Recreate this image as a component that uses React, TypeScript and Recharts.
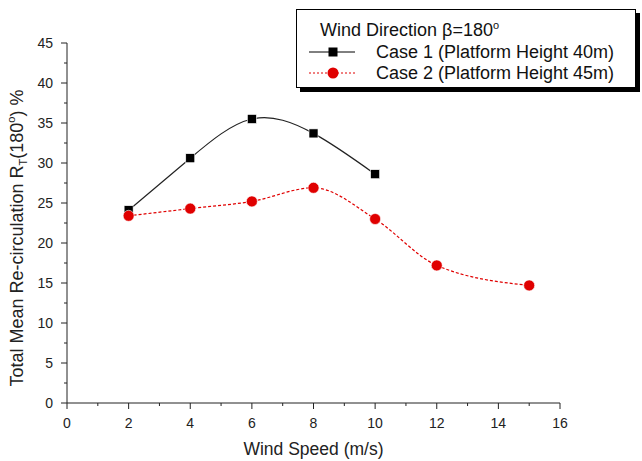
import React from "react";
import { LineChart, Line, XAxis, YAxis, Label } from "recharts";

const windSpeeds1 = [2, 4, 6, 8, 10];
const case1Values = [24.1, 30.6, 35.5, 33.7, 28.6];
const windSpeeds2 = [2, 4, 6, 8, 10, 12, 15];
const case2Values = [23.4, 24.3, 25.2, 26.9, 23.0, 17.2, 14.7];

const xTicks = [0, 1, 2, 3, 4, 5, 6, 7, 8, 9, 10, 11, 12, 13, 14, 15, 16];
const yTicks = [0, 2.5, 5, 7.5, 10, 12.5, 15, 17.5, 20, 22.5, 25, 27.5, 30, 32.5, 35, 37.5, 40, 42.5, 45];

const FONT = "'Liberation Sans', Arial, sans-serif";
const RED = "#e00000";

const case1 = windSpeeds1.map((x, i) => ({ x, y: case1Values[i] }));
const case2 = windSpeeds2.map((x, i) => ({ x, y: case2Values[i] }));

function XTick(props: any) {
  const { x, y, payload } = props;
  const major = payload.value % 2 === 0;
  return (
    <g>
      <line x1={x} x2={x} y1={y - 8} y2={y - 8 + (major ? 6 : 3)} stroke="#222" strokeWidth={1} />
      {major && (
        <text x={x} y={y + 17} textAnchor="middle" fontSize={14} fill="#222" fontFamily={FONT}>
          {payload.value}
        </text>
      )}
    </g>
  );
}

function YTick(props: any) {
  const { x, y, payload } = props;
  const major = payload.value % 5 === 0;
  return (
    <g>
      <line x1={x + 8} x2={x + 8 - (major ? 6 : 3)} y1={y} y2={y} stroke="#222" strokeWidth={1} />
      {major && (
        <text x={x - 6} y={y + 5} textAnchor="end" fontSize={14} fill="#222" fontFamily={FONT}>
          {payload.value}
        </text>
      )}
    </g>
  );
}

function SquareDot(props: any) {
  const { cx, cy, index } = props;
  return <rect key={index} x={cx - 4.5} y={cy - 4.5} width={9} height={9} fill="#000" stroke="#fff" strokeWidth={0.6} />;
}

function CircleDot(props: any) {
  const { cx, cy, index } = props;
  return <circle key={index} cx={cx} cy={cy} r={5.5} fill={RED} stroke="#fff" strokeWidth={0.6} />;
}

function YTitle() {
  const cx = 17;
  const cy = 238;
  return (
    <text
      x={cx}
      y={cy}
      transform={`rotate(-90 ${cx} ${cy})`}
      textAnchor="middle"
      dominantBaseline="central"
      fontSize={18}
      fill="#222"
      fontFamily={FONT}
    >
      Total Mean Re-circulation R
      <tspan fontSize={11} baselineShift="sub">T</tspan>
      <tspan>(180</tspan>
      <tspan fontSize={11} baselineShift="super">o</tspan>
      <tspan>) %</tspan>
    </text>
  );
}

const legendText = {
  position: "absolute" as const,
  fontSize: 18,
  lineHeight: "20px",
  whiteSpace: "nowrap" as const,
};

function LegendBox() {
  return (
    <div
      style={{
        position: "absolute",
        left: 296,
        top: 9,
        width: 338,
        height: 77,
        border: "1px solid #000",
        boxShadow: "4px 4px 0 #000",
        background: "#fff",
        fontFamily: FONT,
        color: "#111",
      }}
    >
      <div style={{ ...legendText, left: 23, top: 10 }}>
        Wind Direction β=180<sup style={{ fontSize: 11, lineHeight: 0 }}>o</sup>
      </div>
      <svg style={{ position: "absolute", left: 10, top: 32 }} width={50} height={40}>
        <line x1={2} x2={48} y1={10} y2={10} stroke="#000" strokeWidth={1} />
        <rect x={21.5} y={5.5} width={9} height={9} fill="#000" />
        <line x1={2} x2={48} y1={31} y2={31} stroke={RED} strokeWidth={1} strokeDasharray="2 2" />
        <circle cx={26} cy={31} r={5.5} fill={RED} />
      </svg>
      <div style={{ ...legendText, left: 79, top: 32 }}>Case 1 (Platform Height 40m)</div>
      <div style={{ ...legendText, left: 79, top: 53 }}>Case 2 (Platform Height 45m)</div>
    </div>
  );
}

export default function App() {
  return (
    <div style={{ position: "absolute", left: 0, top: 0, width: 642, height: 461, background: "#fff" }}>
      <LineChart width={642} height={461} margin={{ top: 43, right: 82, bottom: 28, left: 30 }}>
        <XAxis
          type="number"
          dataKey="x"
          domain={[0, 16]}
          ticks={xTicks}
          interval={0}
          tick={<XTick />}
          tickLine={false}
          axisLine={{ stroke: "#222" }}
          height={30}
        >
          <Label
            value="Wind Speed (m/s)"
            position="bottom"
            offset={10}
            style={{ fontSize: 17.5, fill: "#222", fontFamily: FONT }}
          />
        </XAxis>
        <YAxis
          type="number"
          dataKey="y"
          domain={[0, 45]}
          ticks={yTicks}
          interval={0}
          tick={<YTick />}
          tickLine={false}
          axisLine={{ stroke: "#222" }}
          width={37}
        >
          <Label content={<YTitle />} />
        </YAxis>
        <Line
          data={case1}
          dataKey="y"
          type="natural"
          stroke="#222"
          strokeWidth={1.2}
          dot={<SquareDot />}
          isAnimationActive={false}
        />
        <Line
          data={case2}
          dataKey="y"
          type="monotone"
          stroke={RED}
          strokeWidth={1.2}
          strokeDasharray="3 2"
          dot={<CircleDot />}
          isAnimationActive={false}
        />
      </LineChart>
      <LegendBox />
    </div>
  );
}
